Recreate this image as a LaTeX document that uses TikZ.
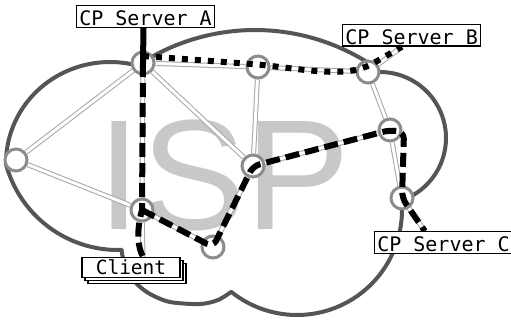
\documentclass[tikz,border=0pt]{standalone}
\usepackage{fontspec}
\newfontfamily\labelfont{DejaVu Sans Mono}
\newfontfamily\ispfont{Liberation Sans}
\usetikzlibrary{shadows}
\pgfdeclarelayer{bg}
\pgfdeclarelayer{fg}
\pgfsetlayers{bg,main,fg}
\definecolor{cloudgray}{HTML}{555555}
\definecolor{routergray}{HTML}{8C8C8C}
\definecolor{linkgray}{HTML}{A6A6A6}
\definecolor{ispgray}{HTML}{C8C8C8}
\begin{document}
\begin{tikzpicture}[x=1pt,y=-1pt,
  router/.style={circle, draw=routergray, line width=3pt, fill=white, minimum size=22pt, inner sep=0pt},
  link/.style={draw=linkgray, line width=1pt, double=white, double distance=3pt},
  cloudline/.style={draw=cloudgray, line width=4pt, line join=round},
  lbl/.style={draw=black, line width=1.3pt, fill=white, font=\labelfont\fontsize{20}{20}\selectfont,
    inner xsep=2.8pt, inner ysep=1.3pt, text height=18pt, text depth=0.8pt},
  clientbox/.style={lbl, font=\labelfont\fontsize{19.5}{19.5}\selectfont, text height=15.5pt, text depth=2.5pt,
    minimum width=98pt,
    copy shadow={shadow xshift=6pt, shadow yshift=-6pt},
    copy shadow={shadow xshift=3pt, shadow yshift=-3pt}},
  pathsolid/.style={draw=black, line width=6pt},
  pathdash/.style={draw=black, line width=6pt, dash pattern=on 14pt off 6pt},
  pathdot/.style={draw=black, line width=6pt, dash pattern=on 6pt off 7pt},
  isptext/.style={text=ispgray, font=\ispfont\fontsize{157}{157}\selectfont, inner sep=0pt,
    text height=113pt, text depth=0pt, anchor=base west}
]
\useasboundingbox (0,0) rectangle (511,325);

% routers
\node[router] (A)  at (143,63)  {};
\node[router] (N2) at (258,67)  {};
\node[router] (B)  at (368,72)  {};
\node[router] (W)  at (16,160)  {};
\node[router] (C1) at (253,166) {};
\node[router] (R)  at (390,130) {};
\node[router] (Cl) at (142,210) {};
\node[router] (D)  at (213,247) {};
\node[router] (C)  at (402,198) {};

% labels
\begin{pgfonlayer}{fg}
\node[lbl] (LA) at (145.5,16.5) {CP Server A};
\node[lbl] (LB) at (411.6,35.4) {CP Server B};
\node[lbl] (LC) at (443.5,242.5) {CP Server C};
\node[clientbox] (Client) at (131,267.5) {Client};
\end{pgfonlayer}

\coordinate (LApt) at ([xshift=-2pt]LA.south);
\coordinate (LBpt) at ([xshift=60pt]LB.south west);
\coordinate (LCpt) at ([xshift=51pt]LC.north west);
\coordinate (CLpt) at ([xshift=12pt]Client.north);
\coordinate (rb) at (372,64);
\coordinate (rc) at (404,132);

\begin{pgfonlayer}{bg}
\fill[white] (0,0) rectangle (511,325);
\node[isptext] (isp) at (97.2,229) {ISP};
\draw[cloudline]
  plot[domain=-122:-58, samples=40, variable=\t] ({255+212*cos(\t)},{242+212*sin(\t)})
  -- plot[domain=-90:63, samples=40, variable=\t] ({380+66*cos(\t)},{138+66*sin(\t)})
  -- plot[domain=-5:128.6, samples=50, variable=\t] ({297+105*cos(\t)},{210+105*sin(\t)})
  -- plot[smooth] coordinates {(231,292) (218,300) (200,304) (170,302) (150,294) (137,284) (128,271) (123,258) (121.5,250)}
  -- plot[domain=88:165.5, samples=40, variable=\t] ({118+116*cos(\t)},{134+116*sin(\t)})
  -- plot[domain=180:287, samples=50, variable=\t] ({110+104*cos(\t)},{163+101*sin(\t)})
  -- cycle;
% links
\draw[link] (A) -- (N2);
\draw[link] (A) -- (W);
\draw[link] (A) -- (C1);
\draw[link] (A) -- (Cl);
\draw[link] (N2) -- (B);
\draw[link] (N2) -- (C1);
\draw[link] (B) -- (R);
\draw[link] (W) -- (Cl);
\draw[link] (C1) -- (R);
\draw[link] (C1) -- (D);
\draw[link] (Cl) -- (D);
\draw[link] (R) -- (C);
\draw[link] (LApt) -- (A);
\draw[link] (LBpt) -- (B);
\draw[link] (LCpt) -- (C);
\draw[link] (CLpt) -- (Cl);
\end{pgfonlayer}

% paths
\draw[pathsolid] (LApt) -- (A.center);
\draw[pathdash] (A.center) -- (Cl.center) .. controls (136,232) and (138,248) .. (CLpt);
\draw[pathdot] ([yshift=7pt]A.center) -- ([yshift=2.5pt]N2.center) .. controls (310,70) and (345,78) .. (rb) -- (LBpt);
\draw[pathdash, rounded corners=7pt] (Cl.center) -- (D.center) -- (C1.center) -- (R.center) -- (rc) -- (C.center) -- (LCpt);
\end{tikzpicture}
\end{document}
